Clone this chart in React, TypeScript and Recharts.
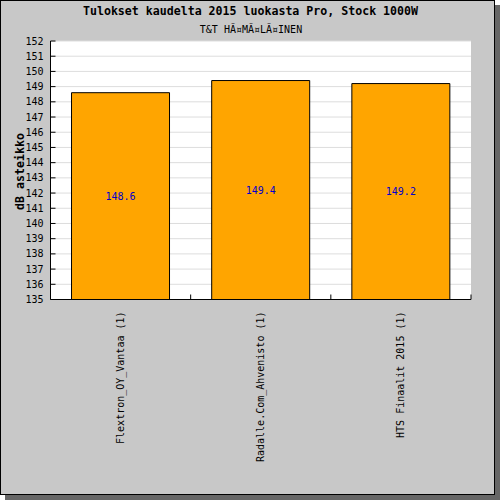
import React from 'react';
import { BarChart, Bar, XAxis, YAxis, CartesianGrid, LabelList } from 'recharts';

const venues = ['Flextron_OY_Vantaa (1)', 'Radalle.Com_Ahvenisto (1)', 'HTS Finaalit 2015 (1)'];
const scores = [148.6, 149.4, 149.2];
const yTicks = [135, 136, 137, 138, 139, 140, 141, 142, 143, 144, 145, 146, 147, 148, 149, 150, 151, 152];

const title = 'Tulokset kaudelta 2015 luokasta Pro, Stock 1000W';
const subtitle = 'T&T HÃ¤MÃ¤LÃ¤INEN';
const yLabel = 'dB asteikko';

const data = venues.map((name, i) => ({ name, value: scores[i] }));

const MONO = '"DejaVu Sans Mono", monospace';
const W = 500;
const H = 500;
const MARGIN = { top: 41, right: 29, left: 0.5, bottom: 0 };
const Y_W = 50;
const X_H = 200.5;
const PLOT_W = W - MARGIN.left - MARGIN.right - Y_W;
const BAND = PLOT_W / venues.length;

// y ticks point into the plot, labels sit left of the axis
const YTick = (props: any) => {
  const { x, y, payload } = props;
  return (
    <g>
      <line x1={x} x2={x + 5} y1={y} y2={y} stroke="#000" />
      <text x={x - 7} y={y} dy="0.35em" textAnchor="end" fontFamily={MONO} fontSize={10} fill="#000">
        {payload.value}
      </text>
    </g>
  );
};

// category labels rotated, small tick at the right edge of each band
const XTick = (props: any) => {
  const { x, y, payload } = props;
  const tx = x + BAND / 2;
  return (
    <g>
      <line x1={tx} x2={tx} y1={y} y2={y - 5} stroke="#000" />
      <text
        x={x}
        y={y + 12}
        dy="0.35em"
        textAnchor="end"
        transform={`rotate(-90, ${x}, ${y + 12})`}
        fontFamily={MONO}
        fontSize={10}
        fill="#000"
      >
        {payload.value}
      </text>
    </g>
  );
};

export default function App() {
  return (
    <div style={{ position: 'absolute', left: 0, top: 0, width: W, height: H }}>
      <div
        style={{
          position: 'absolute',
          left: 0,
          top: 0,
          width: 495,
          height: 495,
          boxSizing: 'border-box',
          border: '1px solid #000',
          background: '#c8c8c8',
          boxShadow: '5px 5px 0 #666666',
        }}
      />
      <div style={{ position: 'absolute', left: 0, top: 0 }}>
        <BarChart width={W} height={H} data={data} margin={MARGIN} barCategoryGap="15%">
          <CartesianGrid vertical={false} stroke="#dddddd" fill="#ffffff" fillOpacity={1} />
          <XAxis
            dataKey="name"
            interval={0}
            height={X_H}
            tickSize={0}
            tickMargin={0}
            tickLine={false}
            axisLine={{ stroke: '#000' }}
            tick={<XTick />}
          />
          <YAxis
            type="number"
            domain={[135, 152]}
            ticks={yTicks}
            interval={0}
            width={Y_W}
            tickSize={0}
            tickMargin={0}
            tickLine={false}
            axisLine={{ stroke: '#000' }}
            tick={<YTick />}
            allowDataOverflow
          />
          <Bar dataKey="value" fill="#ffa500" stroke="#000" strokeWidth={1} isAnimationActive={false}>
            <LabelList
              dataKey="value"
              position="center"
              formatter={(v: any) => Number(v).toFixed(1)}
              fill="#0000cc"
              fontFamily={MONO}
              fontSize={10}
            />
          </Bar>
        </BarChart>
      </div>
      <svg width={W} height={H} style={{ position: 'absolute', left: 0, top: 0, pointerEvents: 'none' }}>
        <text x={250.5} y={11} dy="0.35em" textAnchor="middle" fontFamily={MONO} fontWeight="bold" fontSize={11.6} fill="#000">
          {title}
        </text>
        <text x={251} y={29} dy="0.35em" textAnchor="middle" fontFamily={MONO} fontSize={10} fill="#000">
          {subtitle}
        </text>
        <text
          x={19.5}
          y={171.5}
          dy="0.35em"
          textAnchor="middle"
          transform="rotate(-90, 19.5, 171.5)"
          fontFamily={MONO}
          fontWeight="bold"
          fontSize={11.6}
          fill="#000"
        >
          {yLabel}
        </text>
      </svg>
    </div>
  );
}
